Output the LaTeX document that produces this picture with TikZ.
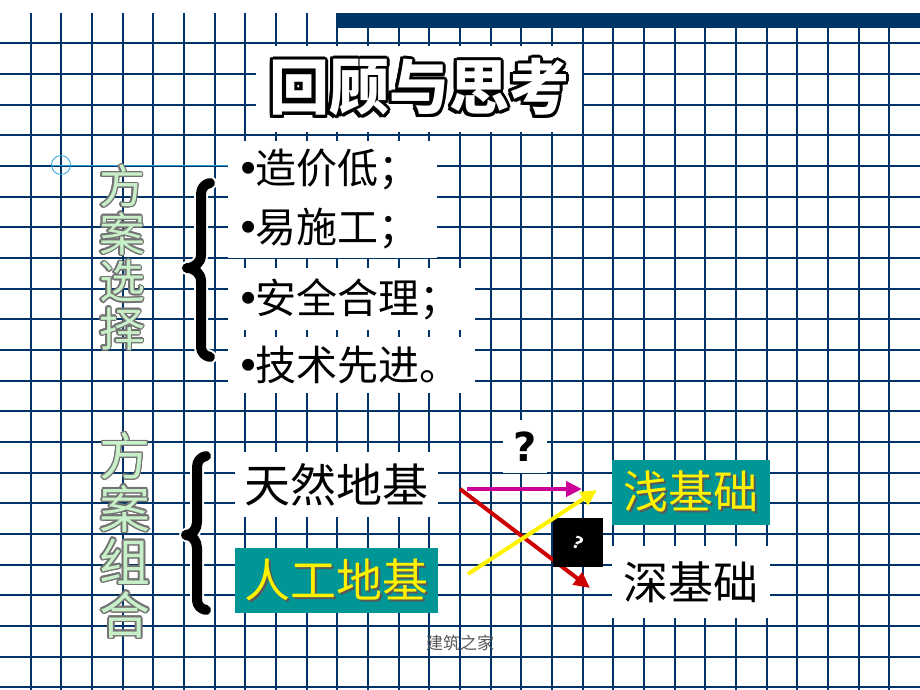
\documentclass[tikz,border=0pt]{standalone}
\usepackage{fontspec}
\usepackage[copies]{contour}
\usetikzlibrary{arrows.meta}
\newfontfamily\cjk{Noto Sans CJK SC}
\newfontfamily\dejavu{DejaVu Sans}
\definecolor{gridnavy}{RGB}{0,51,102}
\definecolor{tealbg}{RGB}{0,150,150}
\definecolor{labelgreen}{RGB}{200,240,200}
\definecolor{arrowpink}{RGB}{204,0,153}
\definecolor{arrowred}{RGB}{204,0,0}
\definecolor{marker}{RGB}{40,160,220}
\newcommand\shad[1]{\makebox[0pt][l]{\kern2pt\raisebox{-2pt}{\textcolor{black!65}{#1}}}#1}
\newcommand\vlbl[1]{\contour{black!55}{#1}}
\newcommand\bul{{\dejavu •}\kern-5pt}
\tikzset{
  gridline/.style={gridnavy, line width=2pt},
  brace/.style={line width=10pt, line cap=round, line join=round},
  item/.style={anchor=west, fill=white, inner xsep=8pt, align=left,
    font=\cjk\fontsize{41}{41}\selectfont},
  basebox/.style={fill=white, inner sep=0pt},
  tealbox/.style={basebox, fill=tealbg, text=yellow},
  pointer/.style={line width=4pt, -{Triangle[length=16pt,width=15pt]}},
}
\begin{document}
\begin{tikzpicture}[x=1pt,y=-1pt]
    \useasboundingbox (0,0) rectangle (920,690);
    \fill[white] (0,0) rectangle (920,690);

    \foreach \i in {1,...,29}
        \draw[gridline] (30.667*\i,13.3) -- (30.667*\i,690);
    \foreach \j in {0,...,21}
        \draw[gridline] (0,43.3+30.667*\j) -- (920,43.3+30.667*\j);
    \fill[gridnavy] (337,13.3) rectangle (920,28.3);

    \draw[marker, line width=0.8pt] (51,165) -- (228,165);
    \draw[marker, line width=0.8pt] (61,165) circle (9.5);

    \node[basebox, minimum width=326, minimum height=85, text=white,
        font=\cjk\bfseries\fontsize{60}{60}\selectfont] (Title) at (419,89)
        {\contourlength{3pt}\contour{black}{回顾与思考}};

    \node[text=labelgreen, align=center, font=\cjk\fontsize{46}{47.5}\selectfont] (PlanChoice) at (122,258)
        {\contourlength{1.2pt}\vlbl{方}\\\vlbl{案}\\\vlbl{选}\\\vlbl{择}};
    \node[text=labelgreen, align=center, font=\cjk\fontsize{51}{53}\selectfont] (PlanCombo) at (125,536)
        {\contourlength{1.2pt}\vlbl{方}\\\vlbl{案}\\\vlbl{组}\\\vlbl{合}};

    \draw[brace, white, line width=14pt] (210,183) to[out=190,in=90] (201,194) -- (201,255) to[out=-90,in=0] (187,268)
        to[out=0,in=90] (201,281) -- (201,347) to[out=-90,in=170] (210,357);
    \draw[brace] (210,183) to[out=190,in=90] (201,194) -- (201,255) to[out=-90,in=0] (187,268)
        to[out=0,in=90] (201,281) -- (201,347) to[out=-90,in=170] (210,357);
    \draw[brace, white, line width=14pt] (206,456) to[out=190,in=90] (197,467) -- (197,522) to[out=-90,in=0] (186,535)
        to[out=0,in=90] (197,548) -- (197,600) to[out=-90,in=170] (206,610);
    \draw[brace] (206,456) to[out=190,in=90] (197,467) -- (197,522) to[out=-90,in=0] (186,535)
        to[out=0,in=90] (197,548) -- (197,600) to[out=-90,in=170] (206,610);

    \node[item, text width=193, minimum height=58.5] (Cheap) at (228,170) {\bul{}造价低；};
    \node[item, text width=193, minimum height=59] (EasyBuild) at (228,228.5) {\bul{}易施工；};
    \node[item, text width=231, minimum height=62] (SafeSound) at (228,299) {\bul{}安全合理；};
    \node[item, text width=231, minimum height=56] (Advanced) at (228,365) {\bul{}技术先进。};

    \node[basebox, minimum width=203, minimum height=65, font=\cjk\fontsize{46}{46}\selectfont] (NaturalBase) at (336.5,484.5) {天然地基};
    \node[tealbox, minimum width=203, minimum height=65, font=\cjk\fontsize{46}{46}\selectfont] (ArtificialBase) at (336.5,580.5) {\shad{人工地基}};
    \node[tealbox, minimum width=158, minimum height=65, font=\cjk\fontsize{45}{45}\selectfont] (Shallow) at (691,492.5) {\shad{浅基础}};
    \node[basebox, minimum width=158, minimum height=72, font=\cjk\fontsize{45}{45}\selectfont] (Deep) at (691,582) {深基础};

    \node[basebox, minimum width=44, minimum height=53, font=\dejavu\bfseries\fontsize{40}{40}\selectfont] (QMark) at (525,446.5) {?};

    \coordinate (PinkStart) at (467,489);
    \coordinate (PinkEnd) at (582,489);
    \coordinate (RedStart) at (460,489);
    \coordinate (RedEnd) at (590,588);
    \coordinate (YellowStart) at (468,574);
    \coordinate (YellowEnd) at (597,490);

    \draw[pointer, arrowpink] (PinkStart) -- (PinkEnd);
    \draw[pointer, arrowred] (RedStart) -- (RedEnd);
    \node[fill=black, minimum width=50, minimum height=49, inner sep=0pt, text=white,
        font=\dejavu\bfseries\fontsize{17}{17}\selectfont] (QBox) at (578,542.5) {\rotatebox{-25}{?}};
    \draw[pointer, yellow] (YellowStart) -- (YellowEnd);

    \node[text=black!65, font=\cjk\fontsize{17}{17}\selectfont] (Footer) at (460,643) {建筑之家};

\end{tikzpicture}
\end{document}
